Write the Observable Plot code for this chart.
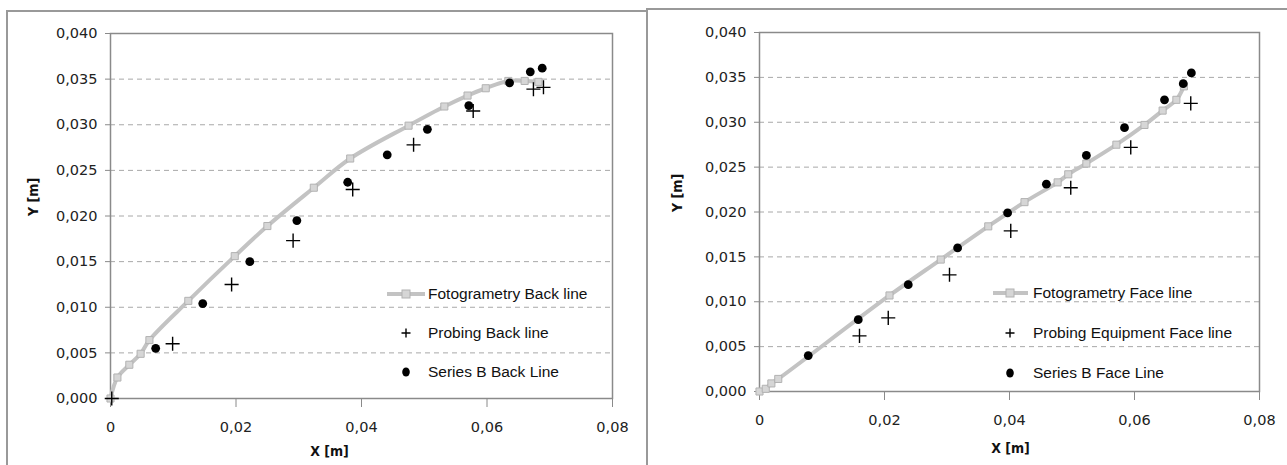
<!DOCTYPE html>
<html>
<head>
<meta charset="utf-8">
<script src="https://cdn.jsdelivr.net/npm/d3@7"></script>
<script src="https://cdn.jsdelivr.net/npm/@observablehq/plot@0.6"></script>
<style>
  html, body { margin: 0; padding: 0; background: #fff; }
  #wrap { position: relative; width: 1287px; height: 465px; overflow: hidden; background: #fff; }
  .panel { position: absolute; border: 2px solid #999; box-sizing: border-box; }
  .chart { position: absolute; top: 0; }
  .leg { position: absolute; font-family: "Liberation Sans", Arial, sans-serif; font-size: 15.5px; color: #111; white-space: nowrap; line-height: 1; }
  .legsym { position: absolute; overflow: visible; }
</style>
</head>
<body>
<div id="wrap">
  <div class="panel" style="left:6px; top:10px; width:642px; height:470px;"></div>
  <div class="panel" style="left:646px; top:8px; width:660px; height:470px;"></div>
</div>
<script>
// ---- data: Back line chart ----
const backFotoX  = [0, 0.0011, 0.0030, 0.0048, 0.0062, 0.0124, 0.0198, 0.0250, 0.0324, 0.0382, 0.0475, 0.0532, 0.0569, 0.0598, 0.0634, 0.0660, 0.0682];
const backFotoY  = [0, 0.0023, 0.0037, 0.0049, 0.0064, 0.0107, 0.0156, 0.0189, 0.0231, 0.0263, 0.0299, 0.0320, 0.0332, 0.0340, 0.0348, 0.0348, 0.0347];
const backProbeX = [0.0002, 0.0099, 0.0193, 0.0291, 0.0386, 0.0483, 0.0578, 0.0674, 0.0690];
const backProbeY = [0.0000, 0.0060, 0.0125, 0.0173, 0.0229, 0.0278, 0.0315, 0.0339, 0.0341];
const backSerX   = [0.0072, 0.0147, 0.0222, 0.0297, 0.0378, 0.0441, 0.0505, 0.0571, 0.0636, 0.0669, 0.0688];
const backSerY   = [0.0055, 0.0104, 0.0150, 0.0195, 0.0237, 0.0267, 0.0295, 0.0321, 0.0346, 0.0358, 0.0362];

// ---- data: Face line chart ----
const faceFotoX  = [0, 0.0010, 0.0019, 0.0030, 0.0208, 0.0290, 0.0366, 0.0424, 0.0477, 0.0494, 0.0523, 0.0571, 0.0616, 0.0645, 0.0667, 0.0679];
const faceFotoY  = [0, 0.0003, 0.0009, 0.0014, 0.0107, 0.0147, 0.0184, 0.0211, 0.0233, 0.0242, 0.0254, 0.0275, 0.0297, 0.0313, 0.0325, 0.0340];
const faceProbeX = [0.0160, 0.0206, 0.0304, 0.0402, 0.0498, 0.0594, 0.0690];
const faceProbeY = [0.0062, 0.0082, 0.0130, 0.0179, 0.0227, 0.0272, 0.0321];
const faceSerX   = [0.0078, 0.0158, 0.0238, 0.0317, 0.0397, 0.0459, 0.0523, 0.0584, 0.0648, 0.0678, 0.0691];
const faceSerY   = [0.0040, 0.0080, 0.0119, 0.0160, 0.0199, 0.0231, 0.0263, 0.0294, 0.0325, 0.0343, 0.0355];

// ---- ticks & labels ----
const xTicks = [0, 0.02, 0.04, 0.06, 0.08];
const yTicks = [0, 0.005, 0.010, 0.015, 0.020, 0.025, 0.030, 0.035, 0.040];
const gridTicks = [0.005, 0.010, 0.015, 0.020, 0.025, 0.030, 0.035];
const xTitle = "X [m]";
const yTitle = "Y [m]";
const backLabels = ["Fotogrametry Back line", "Probing Back line", "Series B Back Line"];
const faceLabels = ["Fotogrametry Face line", "Probing Equipment Face line", "Series B Face Line"];

const zip = (xs, ys) => xs.map((x, i) => ({x, y: ys[i]}));
const fmtX = d => d === 0 ? "0" : d.toFixed(2).replace(".", ",");
const fmtY = d => d.toFixed(3).replace(".", ",");

const TICKFONT = "DejaVu Sans, Verdana, sans-serif";
const TITLEFONT = "DejaVu Sans Condensed, DejaVu Sans, sans-serif";

function chart({foto, probe, ser, width, mL, mR, mT, mB, xdx, xdy, ydx}) {
  return Plot.plot({
    width, height: 465,
    marginLeft: mL, marginRight: mR, marginTop: mT, marginBottom: mB,
    style: {background: "transparent", fontFamily: TICKFONT, fontSize: "14.5px", color: "#222", overflow: "visible"},
    x: {domain: [0, 0.08]},
    y: {domain: [0, 0.04]},
    marks: [
      Plot.gridY(gridTicks, {stroke: "#a8a8a8", strokeOpacity: 1, strokeDasharray: "5,4", strokeWidth: 1}),
      Plot.frame({stroke: "#8a8a8a", strokeWidth: 1.5}),
      Plot.axisX(xTicks, {tickSize: 9, tickPadding: 14, tickFormat: fmtX, stroke: "#8a8a8a", label: null, fill: "#222"}),
      Plot.axisY(yTicks, {tickSize: 5, tickPadding: 8, tickFormat: fmtY, stroke: "#8a8a8a", label: null, fill: "#222"}),
      Plot.line(foto, {x: "x", y: "y", stroke: "#c3c3c3", strokeWidth: 4, curve: "catmull-rom"}),
      Plot.dot(foto, {x: "x", y: "y", symbol: "square", r: 4, fill: "#d6d6d6", stroke: "#b2b2b2", strokeWidth: 1}),
      Plot.dot(probe, {x: "x", y: "y", symbol: "plus", r: 4.6, stroke: "#000", strokeWidth: 1.4}),
      Plot.dot(ser, {x: "x", y: "y", r: 4.4, fill: "#000", stroke: "none"}),
      Plot.text([xTitle], {text: d => d, frameAnchor: "bottom", dx: xdx, dy: xdy, fontWeight: "bold", fontSize: 14, fontFamily: TITLEFONT, fill: "#111"}),
      Plot.text([yTitle], {text: d => d, frameAnchor: "left", dx: ydx, rotate: -90, fontWeight: "bold", fontSize: 14, fontFamily: TITLEFONT, fill: "#111"})
    ]
  });
}

const wrap = document.getElementById("wrap");

const left = chart({
  foto: zip(backFotoX, backFotoY), probe: zip(backProbeX, backProbeY), ser: zip(backSerX, backSerY),
  width: 646, mL: 110, mR: 34, mT: 33, mB: 67, xdx: -32, xdy: 57, ydx: -77
});
left.classList.add("chart");
left.style.left = "0px";
wrap.appendChild(left);

const right = chart({
  foto: zip(faceFotoX, faceFotoY), probe: zip(faceProbeX, faceProbeY), ser: zip(faceSerX, faceSerY),
  width: 639, mL: 111, mR: 28, mT: 32, mB: 74, xdx: 1, xdy: 61, ydx: -82
});
right.classList.add("chart");
right.style.left = "648px";
wrap.appendChild(right);

// ---- legends (HTML overlay) ----
function legend(labels, lineX0, lineX1, symX, textX, ys) {
  const ns = "http://www.w3.org/2000/svg";
  const svg = document.createElementNS(ns, "svg");
  svg.setAttribute("class", "legsym");
  svg.setAttribute("width", 1287); svg.setAttribute("height", 465);
  svg.style.left = "0px"; svg.style.top = "0px";
  svg.innerHTML =
    `<line x1="${lineX0}" x2="${lineX1}" y1="${ys[0]}" y2="${ys[0]}" stroke="#c3c3c3" stroke-width="4"/>` +
    `<rect x="${symX - 4}" y="${ys[0] - 4}" width="8" height="8" fill="#d6d6d6" stroke="#b2b2b2"/>` +
    `<path d="M${symX - 4.5},${ys[1]}H${symX + 4.5}M${symX},${ys[1] - 4.5}V${ys[1] + 4.5}" stroke="#000" stroke-width="1.4"/>` +
    `<ellipse cx="${symX}" cy="${ys[2]}" rx="3.8" ry="4.6" fill="#000"/>`;
  wrap.appendChild(svg);
  labels.forEach((t, i) => {
    const s = document.createElement("div");
    s.className = "leg";
    s.textContent = t;
    s.style.left = textX + "px";
    s.style.top = (ys[i] - 8) + "px";
    wrap.appendChild(s);
  });
}
legend(backLabels, 387, 425, 406, 428, [294, 333, 372]);
legend(faceLabels, 993, 1028, 1010, 1033, [293, 333, 373]);
</script>
</body>
</html>
